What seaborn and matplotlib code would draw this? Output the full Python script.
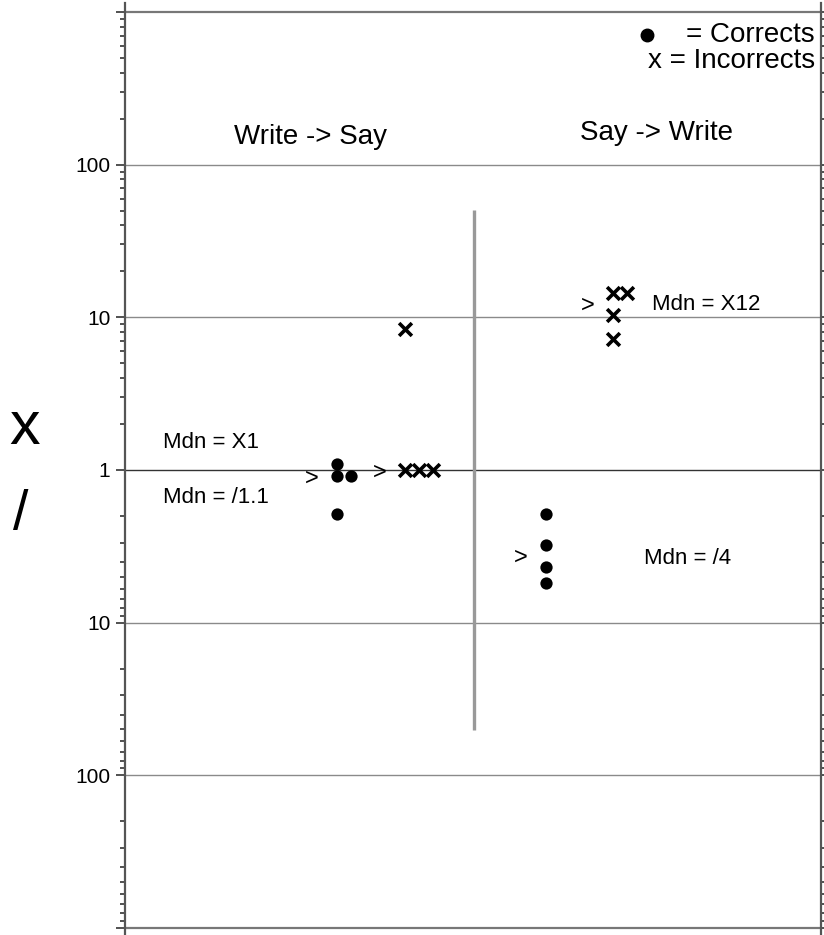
import numpy as np
import pandas as pd
import matplotlib
matplotlib.use("Agg")
import matplotlib.pyplot as plt
import seaborn as sns

# ---------------- data ----------------
directions = ["Write -> Say", "Say -> Write"]
ws_correct = [1.09, 0.91, 0.91, 0.515]
ws_incorrect = [8.4, 1.0, 1.0, 1.0]
sw_correct = [0.515, 0.323, 0.232, 0.182]
sw_incorrect = [14.4, 14.4, 10.4, 7.2]
median_labels = ["Mdn = X1", "Mdn = /1.1", "Mdn = X12", "Mdn = /4"]
ytick_values = [1000, 100, 10, 1, 0.1, 0.01, 0.001]
ytick_labels = ["", "100", "10", "1", "10", "100", ""]

# ---------------- layout ----------------
W, H, DPI = 824, 935, 100
col_centers = {("Write -> Say", "Correct"): 337, ("Write -> Say", "Incorrect"): 405,
               ("Say -> Write", "Correct"): 546, ("Say -> Write", "Incorrect"): 613}
tie_step = 14

series = [("Write -> Say", "Correct", ws_correct), ("Write -> Say", "Incorrect", ws_incorrect),
          ("Say -> Write", "Correct", sw_correct), ("Say -> Write", "Incorrect", sw_incorrect)]
rows = []
for d, k, vals in series:
    seen = {}
    for v in vals:
        n = seen.get(v, 0)
        seen[v] = n + 1
        rows.append({"direction": d, "kind": k, "value": v,
                     "xpos": col_centers[(d, k)] + n * tie_step})
df = pd.DataFrame(rows)

sns.set_style("white")
plt.rcParams["font.family"] = ["Liberation Sans", "DejaVu Sans"]
plt.rcParams["text.color"] = "black"
plt.rcParams["ytick.color"] = "black"
plt.rcParams["ytick.labelcolor"] = "black"

fig = plt.figure(figsize=(W / DPI, H / DPI), dpi=DPI)
ax = fig.add_axes([125 / W, 0.0, (821 - 125) / W, 932 / H])
ax.set_yscale("log")
ax.set_xlim(125, 821)
ax.set_ylim(10 ** -3.046, 10 ** 3.059)

# horizontal grid lines
for v in ytick_values:
    if v == 1:
        ax.axhline(v, color="#333333", lw=1.0, zorder=1)
    elif v in (1000, 0.001):
        ax.axhline(v, color="#777777", lw=1.6, zorder=1)
    else:
        ax.axhline(v, color="#8a8a8a", lw=1.0, zorder=1)

# vertical separator
ax.plot([474, 474], [1 / 50.5, 50.5], color="#999999", lw=2.4, zorder=1,
        solid_capstyle="butt")

cor = df[df["kind"] == "Correct"]
inc = df[df["kind"] == "Incorrect"]
sns.scatterplot(data=cor, x="xpos", y="value", marker="o", color="black", s=78,
                linewidth=0, ax=ax, zorder=3, legend=False)
sns.scatterplot(data=inc, x="xpos", y="value", marker="x", color="black", s=85,
                linewidth=2.6, ax=ax, zorder=3, legend=False)

# median arrows
for d, k, vals in series:
    ax.text(col_centers[(d, k)] - 25, np.median(vals), ">", ha="center",
            va="center_baseline", fontsize=17, color="black")

# median labels
ax.text(163, 10 ** ((470 - 448) / 152.67), median_labels[0], fontsize=16, va="baseline")
ax.text(163, 10 ** ((470 - 503) / 152.67), median_labels[1], fontsize=16, va="baseline")
ax.text(652, 10 ** ((470 - 310) / 152.67), median_labels[2], fontsize=16, va="baseline")
ax.text(644, 10 ** ((470 - 564) / 152.67), median_labels[3], fontsize=16, va="baseline")

# headings
ax.text(310, 10 ** ((470 - 144) / 152.67), directions[0], fontsize=20, ha="center", va="baseline")
ax.text(656, 10 ** ((470 - 140) / 152.67), directions[1], fontsize=20, ha="center", va="baseline")

# legend text
ax.plot([647], [10 ** ((470 - 35) / 152.67)], "o", color="black", ms=9, clip_on=False)
ax.text(815, 10 ** ((470 - 35) / 152.67), "= Corrects", fontsize=20, ha="right", va="center")
ax.text(815, 10 ** ((470 - 61) / 152.67), "x = Incorrects", fontsize=20, ha="right", va="center")

# ticks
ax.set_yticks(ytick_values)
ax.set_yticklabels(ytick_labels)
minor = []
for n in range(3):
    for k in range(2, 10):
        minor.append(k * 10 ** n)
        minor.append(1 / (k * 10 ** n))
ax.yaxis.set_minor_locator(matplotlib.ticker.FixedLocator(minor))
ax.yaxis.set_minor_formatter(matplotlib.ticker.NullFormatter())
ax.tick_params(axis="y", which="major", left=True, right=True, direction="out",
               length=6.5, width=1.2, color="#333333", labelsize=15, pad=4,
               labelcolor="black")
ax.tick_params(axis="y", which="minor", left=True, right=True, direction="out",
               length=3.6, width=1.2, color="#333333")
ax.set_xticks([])
ax.set_xlabel("")
ax.set_ylabel("")
for s in ("top", "bottom"):
    ax.spines[s].set_visible(False)
for s in ("left", "right"):
    ax.spines[s].set_color("#555555")
    ax.spines[s].set_linewidth(1.6)

# big side labels
fig.text(25 / W, 1 - 428 / H, "x", fontsize=44, ha="center", va="center", color="black")
fig.text(21 / W, 1 - 515 / H, "/", fontsize=40, ha="center", va="center", color="black")

fig.savefig("out.png", dpi=DPI)
